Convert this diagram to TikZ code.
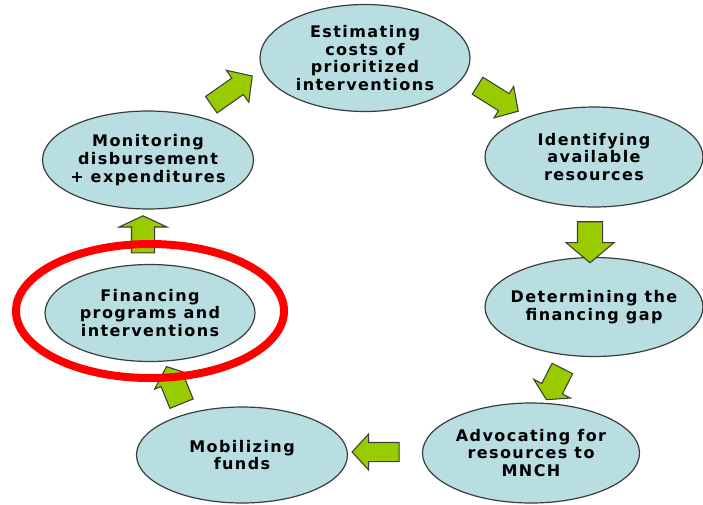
\documentclass[tikz,border=0pt]{standalone}
\usepackage{fontspec}
\setmainfont{DejaVu Sans}
\newfontfamily\phasefont[LetterSpace=9]{DejaVu Sans}
\usetikzlibrary{shapes.geometric,shapes.arrows}

\definecolor{phaseblue}{RGB}{184,222,226}
\definecolor{arrowgreen}{RGB}{153,204,0}
\definecolor{outline}{RGB}{60,60,60}

\tikzset{
phase/.style={ellipse,draw=outline,line width=0.9pt,fill=phaseblue,inner xsep=-12pt,inner ysep=0pt,align=center,
  font=\phasefont\bfseries\fontsize{12}{13.3}\selectfont},
blockarrow/.style={single arrow,draw=outline,line width=0.8pt,fill=arrowgreen,inner xsep=0pt},
ring/.style={draw=red,line width=6pt}
}

\begin{document}
\begin{tikzpicture}[x=0.75pt,y=-0.75pt]
\useasboundingbox (0,0) rectangle (703,504);

\node[phase,minimum width=157.5pt,minimum height=80.25pt] (est) at (365,58) {Estimating\\costs of\\prioritized\\interventions};
\node[phase,minimum width=163.5pt,minimum height=75pt] (ide) at (594,157) {Identifying\\available\\resources};
\node[phase,minimum width=163.5pt,minimum height=74.25pt] (det) at (594,307) {Determining the\\financing gap};
\node[phase,minimum width=162.75pt,minimum height=75pt] (adv) at (531,453) {Advocating for\\resources to\\MNCH};
\node[phase,minimum width=158.25pt,minimum height=72pt] (mob) at (242,455) {Mobilizing\\funds};
\node[phase,minimum width=157.5pt,minimum height=72.75pt] (fin) at (150,313) {Financing\\programs and\\interventions};
\node[phase,minimum width=158.25pt,minimum height=73.5pt] (mon) at (148,160) {Monitoring\\disbursement\\+ expenditures};

\foreach \n/\px/\py/\ang/\len/\hw/\sw/\tip in {a1/228/93/35/50/38/19/95,a2/494/96/-32/48/36/19/95,
  a3/590/237/-90/41/47/24/100,a4/556/381/-117/35/40/22/118,a5/380/452/180/47/35/18/95,
  a6/176/390/112/40/38/24/100,a7/143/237/90/37/47/22/130}
{
\node[blockarrow,rotate=\ang,minimum height=\len*0.75pt,inner ysep=\sw*0.375pt,
  single arrow head extend={(\hw-\sw)*0.375pt},single arrow tip angle=\tip] (\n) at (\px,\py) {};
}

\draw[ring] (fin.center) ++(0,-2) ellipse [x radius=100.5pt,y radius=50.25pt];
\end{tikzpicture}
\end{document}
